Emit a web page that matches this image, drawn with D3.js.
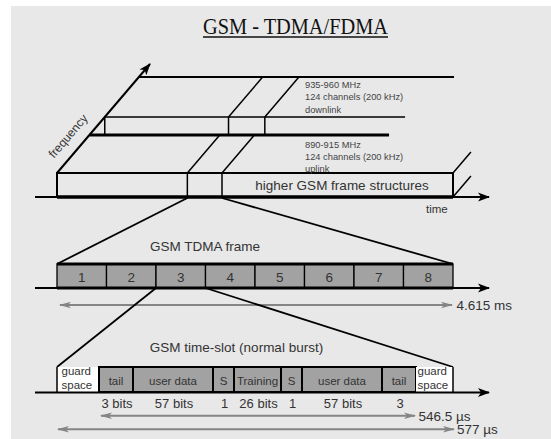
<!DOCTYPE html>
<html>
<head>
<meta charset="utf-8">
<script src="https://cdn.jsdelivr.net/npm/d3@7"></script>
<style>
body { margin: 0; background: #fff; }
text { font-family: "Liberation Sans", Arial, sans-serif; fill: #333; }
</style>
</head>
<body>
<div id="graph"></div>
<script>
// --- data ---
var title = "GSM - TDMA/FDMA";
var bandLabels = [
    ["935-960 MHz", "124 channels (200 kHz)", "downlink"],
    ["890-915 MHz", "124 channels (200 kHz)", "uplink"]
];
var upperBoxLabel = "higher GSM frame structures";
var uplinkFrame = [3.95, 5];      // frame position on the multiframe time line
var downlinkFrame = [3.75, 4.85];
var frameSlots = ["1", "2", "3", "4", "5", "6", "7", "8"];
var zoomSlot = 2;                 // slot 3 gets expanded
var burstFields = ["guard space", "tail", "user data", "S", "Training", "S", "user data", "tail", "guard space"];
var burstSpan = [42, 34, 80, 21, 47, 21, 80, 34, 37];   // drawn widths, not to scale in bits
var burstBits = ["", "3 bits", "57 bits", "1", "26 bits", "1", "57 bits", "3", ""];
var durations = ["4.615 ms", "546.5 µs", "577 µs"];
var captions = ["GSM TDMA frame", "GSM time-slot (normal burst)"];

var width = 551, height = 439;
var bg = "#e8e8e8", slotFill = "#a2a2a2", arrowGrey = "#858585";

var svg = d3.select("div#graph")
    .append("svg")
    .attr("width", width)
    .attr("height", height);

svg.append("rect")
    .attr("x", 11).attr("y", 6)
    .attr("width", width - 11).attr("height", height - 6)
    .attr("fill", bg);

var defs = svg.append("defs");
defs.append("marker")
    .attr("id", "blk")
    .attr("viewBox", "0 -5 12 10")
    .attr("refX", 11).attr("refY", 0)
    .attr("markerWidth", 12).attr("markerHeight", 10)
    .attr("markerUnits", "userSpaceOnUse")
    .attr("orient", "auto")
    .append("path").attr("d", "M0,-4.5L12,0L0,4.5L3,0Z").attr("fill", "#000");
defs.append("marker")
    .attr("id", "gry")
    .attr("viewBox", "0 -4 12 8")
    .attr("refX", 11).attr("refY", 0)
    .attr("markerWidth", 12).attr("markerHeight", 8)
    .attr("markerUnits", "userSpaceOnUse")
    .attr("orient", "auto-start-reverse")
    .append("path").attr("d", "M0,-3.2L12,0L0,3.2L3,0Z").attr("fill", arrowGrey);

// title
svg.append("text")
    .attr("x", 203).attr("y", 34)
    .attr("textLength", 185).attr("lengthAdjust", "spacingAndGlyphs")
    .style("font-family", "'Liberation Serif', 'Times New Roman', serif")
    .style("font-size", "23px").style("fill", "#111")
    .text(title);
svg.append("line")
    .attr("x1", 203).attr("x2", 388).attr("y1", 37).attr("y2", 37)
    .attr("stroke", "#111").attr("stroke-width", 1.3);

function line(g, p, q, w, col, mark) {
    var l = g.append("line")
        .attr("x1", p[0]).attr("y1", p[1]).attr("x2", q[0]).attr("y2", q[1])
        .attr("stroke", col || "#000").attr("stroke-width", w || 1.5);
    if (mark) l.attr("marker-end", "url(#" + mark + ")");
    return l;
}

// --- upper oblique time/frequency plane ---
var tx = d3.scaleLinear().domain([0, 12]).range([57, 453]);
var fy = 173;          // front face top
var slant = 0.853;     // dx per px of depth
function ob(t, depth) { return [tx(t) + depth * slant, fy - depth]; }

var upper = svg.append("g");
// back lines of the frequency bands
line(upper, ob(0, 96), ob(9.55, 96), 2);
line(upper, ob(0, 56), ob(9.1, 56), 1.5);
line(upper, ob(0, 38), ob(9.08, 38), 3);
// downlink box verticals and slants
[0].concat(downlinkFrame).forEach(function(t) {
    line(upper, ob(t, 56), [ob(t, 56)[0], fy - 38], 1.5);
});
downlinkFrame.forEach(function(t) { line(upper, ob(t, 56), ob(t, 96), 1.5); });
// front frame-structure box
upper.append("rect")
    .attr("x", tx(0)).attr("y", fy)
    .attr("width", tx(12) - tx(0)).attr("height", 24)
    .attr("fill", bg).attr("stroke", "#000").attr("stroke-width", 2);
line(upper, [tx(0), fy + 24], [tx(12), fy + 24], 3.5);
uplinkFrame.forEach(function(t) {
    line(upper, [tx(t), fy], [tx(t), fy + 24], 1.5);
    line(upper, ob(t, 0), ob(t, 38), 1.5);
});
// break marks at the right end
line(upper, ob(12, 0), ob(12, 21), 1.5);
line(upper, [tx(12), fy + 24], [tx(12) + 21 * slant, fy + 3], 1.5);
// axes
line(upper, [35, fy + 24], [489, fy + 24], 2, "#000", "blk");
line(upper, ob(0, 0), ob(0, 109), 2, "#000", "blk");

upper.append("text")
    .attr("transform", "translate(68,136) rotate(-49.5)")
    .attr("text-anchor", "middle").attr("dy", "0.35em")
    .style("font-size", "12px")
    .text("frequency");
upper.append("text")
    .attr("x", 426).attr("y", 213)
    .style("font-size", "11.5px")
    .text("time");
upper.append("text")
    .attr("x", 342).attr("y", 189.5)
    .attr("text-anchor", "middle")
    .style("font-size", "13.5px")
    .text(upperBoxLabel);

bandLabels.forEach(function(lines, i) {
    upper.selectAll("text.band" + i)
        .data(lines)
        .enter()
        .append("text")
        .attr("x", 305)
        .attr("y", function(d, j) { return (i == 0 ? 88 : 147.5) + j * 12.4 })
        .style("font-size", "9.3px").style("fill", "#444")
        .text(function(d) { return d });
});

// --- TDMA frame ---
var fx = d3.scaleLinear().domain([0, frameSlots.length]).range([57, 453]);
var frTop = 264, frH = 24;
var mid = svg.append("g");
line(mid, [tx(uplinkFrame[0]), fy + 25], [fx(0), frTop], 1.8);
line(mid, [tx(uplinkFrame[1]), fy + 25], [fx(frameSlots.length), frTop], 1.8);

mid.append("text")
    .attr("x", 205).attr("y", 251)
    .attr("text-anchor", "middle")
    .style("font-size", "13.5px")
    .text(captions[0]);

mid.selectAll("rect.slot")
    .data(frameSlots)
    .enter()
    .append("rect")
    .attr("class", "slot")
    .attr("x", function(d, i) { return fx(i) })
    .attr("y", frTop)
    .attr("width", fx(1) - fx(0))
    .attr("height", frH)
    .attr("fill", slotFill).attr("stroke", "#000").attr("stroke-width", 1.3);
line(mid, [fx(0), frTop], [fx(8), frTop], 3);
line(mid, [fx(0), frTop + frH], [fx(8), frTop + frH], 3);
mid.selectAll("text.slot")
    .data(frameSlots)
    .enter()
    .append("text")
    .attr("x", function(d, i) { return (fx(i) + fx(i + 1)) / 2 })
    .attr("y", frTop + 17.5)
    .attr("text-anchor", "middle")
    .style("font-size", "13.5px")
    .text(function(d) { return d });
line(mid, [35, frTop + frH], [489, frTop + frH], 2, "#000", "blk");

line(mid, [fx(0) + 3, 305], [fx(8) - 1, 305], 2, arrowGrey, "gry").attr("marker-start", "url(#gry)");
mid.append("text").attr("x", 456.5).attr("y", 310)
    .style("font-size", "13.5px").text(durations[0]);

// --- time slot (normal burst) ---
var bTot = d3.sum(burstSpan);
var bx = d3.scaleLinear().domain([0, bTot]).range([57, 453]);
var acc = [0];
burstSpan.forEach(function(s) { acc.push(acc[acc.length - 1] + s) });
var bTop = 367, bH = 25;
var bot = svg.append("g");

line(bot, [fx(zoomSlot), frTop + frH], [bx(0), bTop], 1.8);
line(bot, [fx(zoomSlot + 1), frTop + frH], [bx(bTot), bTop], 1.8);

bot.append("text")
    .attr("x", 236.5).attr("y", 351.5)
    .attr("text-anchor", "middle")
    .style("font-size", "13.5px")
    .text(captions[1]);

var last = burstFields.length - 1;
bot.selectAll("rect.field")
    .data(burstFields)
    .enter()
    .append("rect")
    .attr("class", "field")
    .attr("x", function(d, i) { return bx(acc[i]) })
    .attr("y", bTop)
    .attr("width", function(d, i) { return bx(acc[i + 1]) - bx(acc[i]) })
    .attr("height", bH)
    .attr("fill", function(d, i) { return (i == 0 || i == last) ? "#fff" : slotFill })
    .attr("stroke", function(d, i) { return (i == 0 || i == last) ? "none" : "#000" })
    .attr("stroke-width", 2);
// outer guard edges
line(bot, [bx(0), bTop], [bx(0), bTop + bH], 1.5);
line(bot, [bx(bTot), bTop], [bx(bTot), bTop + bH], 1.5);

bot.selectAll("text.field")
    .data(burstFields.slice(1, last))
    .enter()
    .append("text")
    .attr("x", function(d, i) { return (bx(acc[i + 1]) + bx(acc[i + 2])) / 2 })
    .attr("y", bTop + 17.5)
    .attr("text-anchor", "middle")
    .style("font-size", "11.5px")
    .text(function(d) { return d });

// guard space labels, two lines each
[0, last].forEach(function(i) {
    burstFields[i].split(" ").forEach(function(w, j) {
        bot.append("text")
            .attr("x", bx(acc[i]) + (i == 0 ? 4.5 : 1.5))
            .attr("y", bTop + 7.5 + j * 14)
            .style("font-size", "11.5px")
            .text(w);
    });
});

line(bot, [35, bTop + bH + 0.5], [489, bTop + bH + 0.5], 2, "#000", "blk");

bot.selectAll("text.bits")
    .data(burstBits)
    .enter()
    .append("text")
    .attr("x", function(d, i) { return (bx(acc[i]) + bx(acc[i + 1])) / 2 + 1 })
    .attr("y", 407.5)
    .attr("text-anchor", "middle")
    .style("font-size", "13px")
    .text(function(d) { return d });

line(bot, [bx(acc[1]) + 2, 415.7], [bx(acc[last]) - 1, 415.7], 2, arrowGrey, "gry").attr("marker-start", "url(#gry)");
bot.append("text").attr("x", 418.5).attr("y", 420.5)
    .style("font-size", "13.5px").text(durations[1]);
line(bot, [bx(0) + 1, 429.3], [bx(bTot) + 1, 429.3], 2, arrowGrey, "gry").attr("marker-start", "url(#gry)");
bot.append("text").attr("x", 457).attr("y", 434)
    .style("font-size", "13.5px").text(durations[2]);
</script>
</body>
</html>
